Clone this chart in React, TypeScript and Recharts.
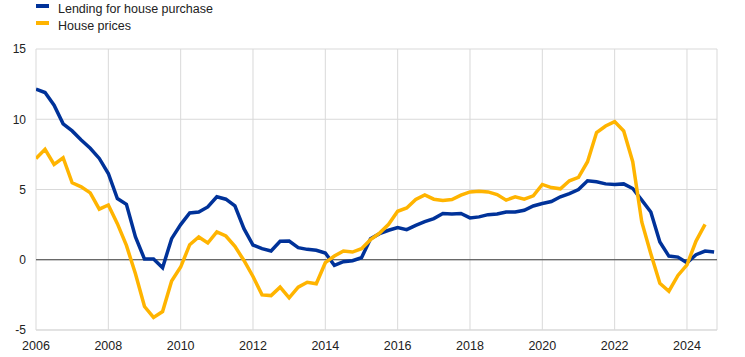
import { LineChart, Line, XAxis, YAxis, CartesianGrid, ReferenceLine } from "recharts";

// quarterly observations, 2006 Q1 onwards
const START_YEAR = 2006;

const lending = [
  12.15, 11.9, 11.0, 9.67, 9.17, 8.52, 7.93, 7.21,
  6.14, 4.36, 3.95, 1.62, 0.05, 0.05, -0.57, 1.5,
  2.5, 3.33, 3.4, 3.76, 4.48, 4.31, 3.83, 2.21,
  1.05, 0.79, 0.62, 1.31, 1.33, 0.86, 0.74, 0.67,
  0.48, -0.4, -0.14, -0.07, 0.14, 1.5, 1.86, 2.1,
  2.29, 2.14, 2.45, 2.71, 2.93, 3.29, 3.26, 3.29,
  2.98, 3.05, 3.21, 3.26, 3.4, 3.4, 3.52, 3.83,
  4.0, 4.14, 4.48, 4.71, 5.0, 5.62, 5.55, 5.4,
  5.36, 5.4, 5.07, 4.24, 3.4, 1.26, 0.26, 0.19,
  -0.21, 0.36, 0.62, 0.55,
];

const housePrices = [
  7.21, 7.86, 6.79, 7.26, 5.48, 5.19, 4.76, 3.6,
  3.9, 2.57, 1.02, -1.0, -3.33, -4.1, -3.69, -1.52,
  -0.52, 1.07, 1.62, 1.19, 1.98, 1.69, 0.95, -0.05,
  -1.19, -2.5, -2.55, -1.95, -2.71, -1.95, -1.6, -1.71,
  -0.21, 0.26, 0.62, 0.55, 0.79, 1.43, 1.9, 2.52,
  3.45, 3.69, 4.29, 4.62, 4.31, 4.21, 4.29, 4.6,
  4.83, 4.88, 4.83, 4.64, 4.24, 4.48, 4.31, 4.55,
  5.36, 5.14, 5.05, 5.62, 5.86, 6.98, 9.05, 9.52,
  9.83, 9.17, 6.98, 2.69, 0.43, -1.67, -2.24, -1.12,
  -0.36, 1.33, 2.52,
];

const xTicks = [2006, 2008, 2010, 2012, 2014, 2016, 2018, 2020, 2022, 2024];
const yTicks = [-5, 0, 5, 10, 15];

const BLUE = "#003299";
const YELLOW = "#FFB400";
const FONT = "Arial, 'Liberation Sans', sans-serif";

const data = lending.map((v, i) => ({
  t: START_YEAR + i / 4,
  lending: v,
  house: i < housePrices.length ? housePrices[i] : null,
}));

const legendItems = [
  { label: "Lending for house purchase", color: BLUE },
  { label: "House prices", color: YELLOW },
];

export default function App() {
  return (
    <div style={{ position: "absolute", left: 0, top: 0, width: 745, height: 357, background: "#fff", fontFamily: FONT }}>
      {legendItems.map((item, i) => (
        <div
          key={item.label}
          style={{ position: "absolute", left: 36, top: 2 + i * 17, height: 14, fontSize: 12.5, lineHeight: "14px", color: "#222", whiteSpace: "nowrap" }}
        >
          <span style={{ position: "absolute", left: 0, top: 2, width: 13, height: 4, background: item.color }} />
          <span style={{ position: "absolute", left: 22 }}>{item.label}</span>
        </div>
      ))}
      <LineChart
        width={745}
        height={357}
        data={data}
        margin={{ top: 49, right: 28, bottom: 0, left: 0 }}
      >
        <CartesianGrid stroke="#d9d9d9" vertical horizontal />
        <XAxis
          dataKey="t"
          type="number"
          domain={[2006, 2024.83]}
          ticks={xTicks}
          allowDataOverflow
          height={27}
          axisLine={{ stroke: "#d9d9d9" }}
          tickLine={false}
          tickMargin={5}
          tick={{ fill: "#222", fontSize: 12.5, fontFamily: FONT }}
        />
        <YAxis
          type="number"
          domain={[-5, 15]}
          ticks={yTicks}
          width={36}
          axisLine={false}
          tickLine={false}
          tickMargin={4}
          tick={{ fill: "#222", fontSize: 12, fontFamily: FONT }}
        />
        <ReferenceLine y={0} stroke="#404040" strokeWidth={1} />
        <Line
          dataKey="lending"
          stroke={BLUE}
          strokeWidth={3.5}
          dot={false}
          type="linear"
          isAnimationActive={false}
        />
        <Line
          dataKey="house"
          stroke={YELLOW}
          strokeWidth={3.5}
          dot={false}
          type="linear"
          isAnimationActive={false}
        />
      </LineChart>
    </div>
  );
}
